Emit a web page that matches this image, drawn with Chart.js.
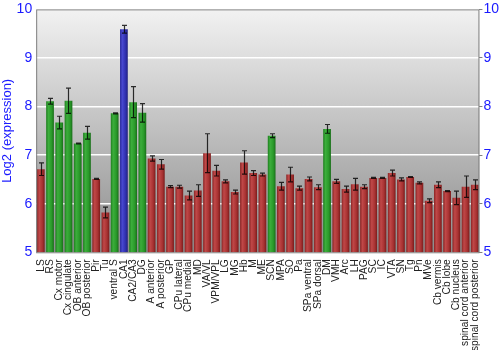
<!DOCTYPE html>
<html lang="en">
<head>
  <meta charset="UTF-8">
  <title>Log2 expression by region</title>
  <script src="https://cdn.jsdelivr.net/npm/chart.js"></script>
  <style>
    body { margin: 0; background: #fff; }
  </style>
</head>
<body>
  <canvas id="chartCanvas" width="500" height="350"></canvas>

  <script>
    const regions = ["LS", "RS", "Cx motor", "Cx cingulate", "OB anterior", "OB posterior", "Pir", "Tu",
      "ventral S", "CA1", "CA2/CA3", "DG", "A anterior", "A posterior", "GP", "CPu lateral", "CPu medial",
      "MD", "VA/VL", "VPM/VPL", "LG", "MG", "Hb", "M", "ME", "SCN", "MPA", "SO", "Pa", "SPa ventral",
      "SPa dorsal", "DM", "VMH", "Arc", "LH", "PAG", "SC", "IC", "VTA", "SN", "Tg", "Pn", "MVe",
      "Cb vermis", "Cb lobe", "Cb nucleus", "spinal cord anterior", "spinal cord posterior"];

    const expression = [6.71, 8.11, 7.67, 8.12, 7.24, 7.46, 6.51, 5.82,
      7.86, 9.59, 8.09, 7.87, 6.93, 6.81, 6.35, 6.35, 6.17,
      6.27, 7.04, 6.68, 6.46, 6.24, 6.85, 6.63, 6.60, 7.40, 6.36, 6.60, 6.32, 6.51,
      6.34, 7.54, 6.46, 6.30, 6.40, 6.35, 6.53, 6.53, 6.63, 6.50, 6.55, 6.43, 6.06,
      6.39, 6.26, 6.12, 6.35, 6.39];

    const errors = [0.13, 0.06, 0.13, 0.26, 0.01, 0.13, 0.01, 0.11,
      0.01, 0.08, 0.32, 0.19, 0.055, 0.10, 0.02, 0.03, 0.09,
      0.12, 0.40, 0.11, 0.03, 0.04, 0.24, 0.05, 0.03, 0.04, 0.08, 0.15, 0.04, 0.04,
      0.05, 0.09, 0.04, 0.06, 0.12, 0.04, 0.01, 0.01, 0.06, 0.03, 0.01, 0.02, 0.04,
      0.06, 0.01, 0.14, 0.22, 0.10];

    const yTicks = [5, 6, 7, 8, 9, 10];

    function barColors(v) {
      if (v >= 9) return ['#2a2a9a', '#4848d0', '#3030b0', '#22227e'];
      if (v >= 7.2) return ['#1e7e1e', '#3cae3c', '#2a9a2a', '#1a6e1a'];
      return ['#8a2424', '#c04848', '#a83232', '#7a1c1c'];
    }

    function barFill(c) {
      const chart = c.chart;
      const v = expression[c.dataIndex];
      const cols = barColors(v);
      const area = chart.chartArea;
      if (!area || !chart.scales.x) return cols[2];
      const xs = chart.scales.x;
      const cx = xs.getPixelForValue(c.dataIndex);
      const half = (area.right - area.left) / regions.length * 0.84 / 2;
      const g = chart.ctx.createLinearGradient(cx - half, 0, cx + half, 0);
      g.addColorStop(0, cols[0]);
      g.addColorStop(0.3, cols[1]);
      g.addColorStop(0.7, cols[2]);
      g.addColorStop(1, cols[3]);
      return g;
    }

    const backdrop = {
      id: 'backdrop',
      beforeDraw(chart) {
        const { ctx, chartArea: a } = chart;
        const g = ctx.createLinearGradient(0, a.top, 0, a.bottom);
        g.addColorStop(0, '#f2f2f2');
        g.addColorStop(1, '#8c8c8c');
        ctx.save();
        ctx.fillStyle = g;
        ctx.fillRect(a.left, a.top, a.right - a.left, a.bottom - a.top);
        ctx.restore();
      },
      afterDraw(chart) {
        const { ctx, chartArea: a } = chart;
        ctx.save();
        ctx.strokeStyle = '#808080';
        ctx.lineWidth = 1;
        ctx.strokeRect(a.left + 0.5, a.top + 0.5, a.right - a.left - 1, a.bottom - a.top);
        ctx.restore();
      }
    };

    const errorBars = {
      id: 'errorBars',
      afterDatasetsDraw(chart) {
        const ctx = chart.ctx;
        const ys = chart.scales.y;
        const meta = chart.getDatasetMeta(0);
        ctx.save();
        ctx.strokeStyle = 'rgba(0,0,0,0.8)';
        ctx.lineWidth = 1.2;
        meta.data.forEach((bar, i) => {
          const x = Math.round(bar.x) + 0.5;
          const hi = ys.getPixelForValue(expression[i] + errors[i]);
          const lo = ys.getPixelForValue(expression[i] - errors[i]);
          ctx.beginPath();
          ctx.moveTo(x, hi); ctx.lineTo(x, lo);
          ctx.moveTo(x - 2.5, hi); ctx.lineTo(x + 2.5, hi);
          ctx.moveTo(x - 2.5, lo); ctx.lineTo(x + 2.5, lo);
          ctx.stroke();
        });
        ctx.restore();
      }
    };

    const tickFont = { family: '"Liberation Sans", Arial, sans-serif', size: 14 };

    new Chart(document.getElementById('chartCanvas'), {
      type: 'bar',
      data: {
        labels: regions,
        datasets: [{
          data: expression,
          backgroundColor: barFill,
          borderWidth: 0,
          barPercentage: 0.84,
          categoryPercentage: 1
        }]
      },
      options: {
        responsive: false,
        animation: false,
        layout: { padding: { top: 3, right: 0, left: 0, bottom: 0 } },
        plugins: { legend: { display: false }, tooltip: { enabled: false } },
        scales: {
          x: {
            grid: { display: false },
            border: { display: false },
            ticks: {
              autoSkip: false, maxRotation: 90, minRotation: 90, padding: -1,
              color: '#222',
              font: { family: '"Liberation Sans", Arial, sans-serif', size: 10.2 }
            }
          },
          y: {
            position: 'left',
            min: 5, max: 10,
            afterBuildTicks: s => { s.ticks = yTicks.map(v => ({ value: v })); },
            grid: { color: '#ffffff', lineWidth: 1.5, tickLength: 3, drawTicks: true },
            border: { display: false },
            ticks: { color: '#1a1aff', font: tickFont, padding: 1 },
            title: {
              display: true, text: 'Log2 (expression)', color: '#1a1aff',
              font: { family: '"Liberation Sans", Arial, sans-serif', size: 13 }, padding: 0
            }
          },
          y2: {
            position: 'right',
            min: 5, max: 10,
            afterBuildTicks: s => { s.ticks = yTicks.map(v => ({ value: v })); },
            grid: { drawOnChartArea: false, color: '#808080', tickLength: 3 },
            border: { display: false },
            ticks: { color: '#1a1aff', font: tickFont, padding: 1 }
          }
        }
      },
      plugins: [backdrop, errorBars]
    });
  </script>
</body>
</html>
